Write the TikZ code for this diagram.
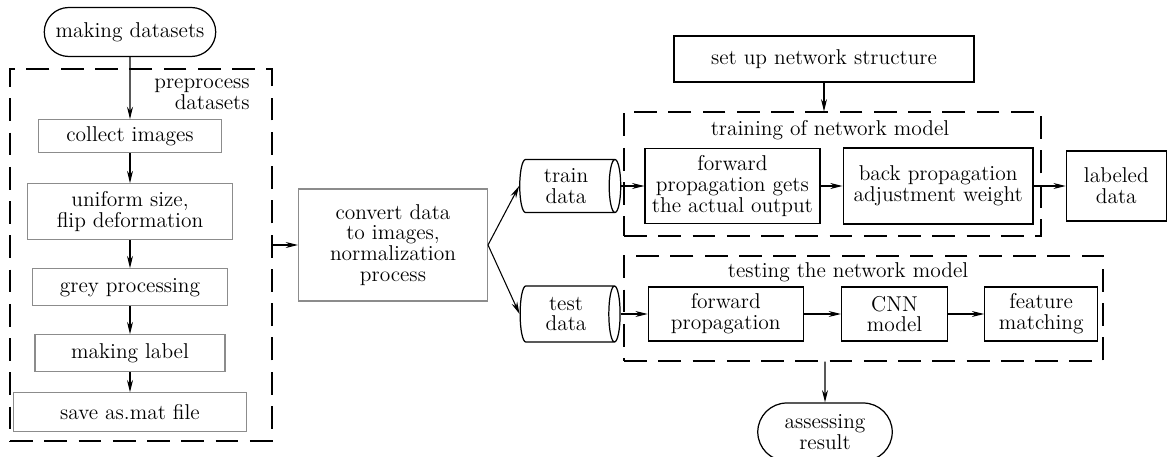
\documentclass[tikz,border=0pt]{standalone}
\usepackage{tikz}
\usetikzlibrary{arrows.meta, positioning, shapes.geometric, shapes.misc}
\definecolor{boxgrey}{gray}{0.55}

\tikzset{
  >={Stealth[length=7pt,width=3.4pt]},
  every node/.append style={font=\fontsize{12.2}{11.8}\selectfont, align=center, inner sep=1pt},
  prepbox/.style={rectangle, draw=boxgrey, line width=0.6pt},
  netbox/.style={rectangle, draw, line width=0.7pt},
  termbox/.style={rounded rectangle, draw, line width=0.7pt},
  databox/.style={cylinder, draw, line width=0.7pt, aspect=0.3},
  groupbox/.style={rectangle, draw, line width=0.7pt, dash pattern=on 13pt off 6.5pt},
  flow/.style={->, line width=0.6pt}
}

\begin{document}
\begin{tikzpicture}[x=0.02cm, y=-0.02cm]
    \useasboundingbox (0,0) rectangle (1175,456);
    % preprocessing column
    \node[termbox, minimum width=3.5cm, minimum height=0.98cm] (making) at (130,32) {making datasets};
    \node[prepbox, minimum width=3.66cm, minimum height=0.66cm, below=1.24cm of making] (collect) {collect images};
    \node[prepbox, minimum width=4.1cm, minimum height=1.12cm, below=0.6cm of collect] (uniform) {uniform size,\\ flip deformation};
    \node[prepbox, minimum width=3.9cm, minimum height=0.74cm, below=0.56cm of uniform] (grey) {grey processing};
    \node[prepbox, minimum width=3.8cm, minimum height=0.74cm, below=0.56cm of grey] (label) {making label};
    \node[prepbox, minimum width=4.66cm, minimum height=0.78cm, below=0.4cm of label] (save) {save as.mat file};
    \node[groupbox, minimum width=5.24cm, minimum height=7.44cm] (prep) at (141,255) {};
    \node[align=right] (preptitle) at (202,94) {preprocess\\ datasets};
    \draw[flow] (making) -- (collect);
    \draw[flow] (collect) -- (uniform);
    \draw[flow] (uniform) -- (grey);
    \draw[flow] (grey) -- (label);
    \draw[flow] (label) -- (save);

    % conversion and data split
    \node[prepbox, minimum width=3.78cm, minimum height=2.24cm] (convert) at (393,245) {convert data\\ to images,\\ normalization\\ process};
    \draw[flow] (prep.east |- convert.west) -- (convert);
    \node[databox, minimum height=2.02cm, minimum width=1.06cm] (train) at (566,186) {train\\ data};
    \node[databox, minimum height=2cm, minimum width=1.12cm] (test) at (566,314) {test\\ data};
    \draw[flow] (convert.east) -- (train.west);
    \draw[flow] (convert.east) -- (test.west);

    % training
    \node[netbox, minimum width=6cm, minimum height=0.92cm] (setup) at (824,59) {set up network structure};
    \node[groupbox, minimum width=8.34cm, minimum height=2.48cm] (training) at (832.5,174) {};
    \node (traintitle) at (830,130) {training of network model};
    \node[netbox, minimum width=3.5cm, minimum height=1.5cm, right=0.46cm of train] (fwdout) {forward\\ propagation gets\\ the actual output};
    \node[netbox, minimum width=3.8cm, minimum height=1.52cm, right=0.44cm of fwdout] (backprop) {back propagation\\ adjustment weight};
    \node[netbox, minimum width=2cm, minimum height=1.4cm, right=0.64cm of backprop] (labeled) {labeled\\ data};
    \draw[flow] (setup) -- (setup.south |- training.north);
    \draw[flow] (train) -- (fwdout);
    \draw[flow] (fwdout) -- (backprop);
    \draw[flow] (backprop) -- (labeled);

    % testing
    \node[groupbox, minimum width=9.58cm, minimum height=2.1cm] (testing) at (863.5,308.5) {};
    \node (testtitle) at (848,272) {testing the network model};
    \node[netbox, minimum width=3.1cm, minimum height=1.08cm, right=0.54cm of test] (fwdprop) {forward\\ propagation};
    \node[netbox, minimum width=2.12cm, minimum height=1.08cm, right=0.74cm of fwdprop] (cnn) {CNN\\ model};
    \node[netbox, minimum width=2.26cm, minimum height=1.08cm, right=0.72cm of cnn] (feature) {feature\\ matching};
    \node[termbox, minimum width=2.76cm, minimum height=1.16cm] (assess) at (825,432) {assessing\\ result};
    \draw[flow] (test) -- (fwdprop);
    \draw[flow] (fwdprop) -- (cnn);
    \draw[flow] (cnn) -- (feature);
    \draw[flow] (testing.south -| assess.north) -- (assess);
\end{tikzpicture}
\end{document}
